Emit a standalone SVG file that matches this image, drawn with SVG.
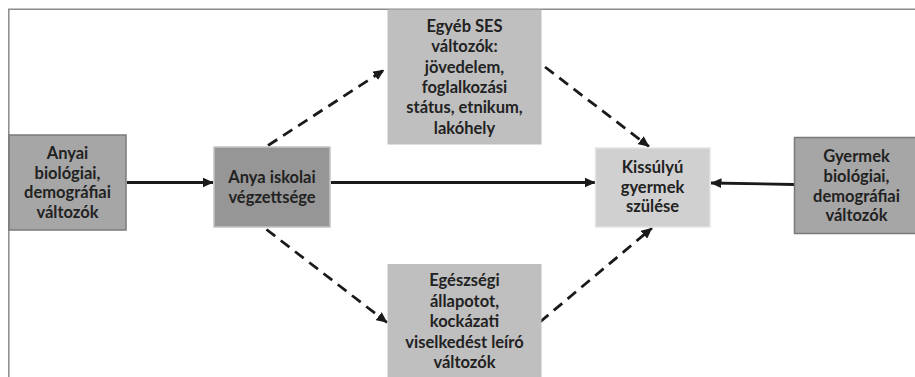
<svg xmlns="http://www.w3.org/2000/svg" width="915" height="377" viewBox="0 0 915 377">
<defs>
<style>
.t{font-family:Lato,"Liberation Sans",sans-serif;font-weight:bold;font-size:16.5px;fill:#222222;text-anchor:middle}
.frame{fill:none;stroke:#8a8a8a;stroke-width:1.5}
.solid{fill:none;stroke:#1a1a1a;stroke-width:2.8}
.dash{fill:none;stroke:#1a1a1a;stroke-width:2.8;stroke-dasharray:11 7}
</style>
<marker id="ah" markerUnits="userSpaceOnUse" markerWidth="11" markerHeight="10" refX="10.5" refY="5" orient="auto">
<path d="M0,0 L11,5 L0,10 z" fill="#1a1a1a"/>
</marker>
</defs>
<rect width="915" height="377" fill="#ffffff"/>
<path class="frame" d="M8.8,377 L8.8,9.2 L915,9.2"/>

<g id="connectors">
<line class="solid" x1="127" y1="182.5" x2="213" y2="182.5" marker-end="url(#ah)"/>
<line class="solid" x1="331" y1="182.5" x2="595" y2="182.5" marker-end="url(#ah)"/>
<line class="solid" x1="794" y1="184.5" x2="711" y2="183" marker-end="url(#ah)"/>
<line class="dash" x1="268" y1="145.5" x2="384" y2="70" marker-end="url(#ah)"/>
<line class="dash" x1="545" y1="67" x2="649" y2="146.5" marker-end="url(#ah)"/>
<line class="dash" x1="266.5" y1="229.5" x2="387" y2="322.5" marker-end="url(#ah)"/>
<line class="dash" x1="540" y1="322" x2="652" y2="228" marker-end="url(#ah)"/>
</g>

<g id="anyai">
<rect x="9" y="135" width="117" height="95" fill="#a6a6a6" stroke="#7a7a7a" stroke-width="1.5"/>
<text class="t" x="67.5" y="159">Anyai</text>
<text class="t" x="67.5" y="178.5">biológiai,</text>
<text class="t" x="67.5" y="198">demográfiai</text>
<text class="t" x="67.5" y="217.5">változók</text>
</g>

<g id="anya-iskolai">
<rect x="214" y="147" width="116" height="80" fill="#969696" stroke="#c4c4c4" stroke-width="1.5"/>
<text class="t" x="272" y="183">Anya iskolai</text>
<text class="t" x="272" y="202.5">végzettsége</text>
</g>

<g id="egyeb-ses">
<rect x="387.5" y="9.5" width="154" height="135" fill="#bfbfbf"/>
<text class="t" x="464.5" y="31.5">Egyéb SES</text>
<text class="t" x="464.5" y="52">változók:</text>
<text class="t" x="464.5" y="72.5">jövedelem,</text>
<text class="t" x="464.5" y="93">foglalkozási</text>
<text class="t" x="464.5" y="113">státus, etnikum,</text>
<text class="t" x="464.5" y="133.5">lakóhely</text>
</g>

<g id="egeszsegi">
<rect x="387.5" y="264" width="154" height="113" fill="#bfbfbf"/>
<text class="t" x="464.5" y="286">Egészségi</text>
<text class="t" x="464.5" y="306.5">állapotot,</text>
<text class="t" x="464.5" y="327">kockázati</text>
<text class="t" x="464.5" y="347.5">viselkedést leíró</text>
<text class="t" x="464.5" y="368">változók</text>
</g>

<g id="kissulyu">
<rect x="595.5" y="148" width="114.5" height="79" fill="#d0d0d0" stroke="#e4e4e4" stroke-width="1.5"/>
<text class="t" x="652.5" y="173">Kissúlyú</text>
<text class="t" x="652.5" y="192.5">gyermek</text>
<text class="t" x="652.5" y="212">szülése</text>
</g>

<g id="gyermek">
<rect x="794.5" y="137.5" width="125" height="96" fill="#a6a6a6" stroke="#7a7a7a" stroke-width="1.5"/>
<text class="t" x="856.5" y="162">Gyermek</text>
<text class="t" x="856.5" y="181.5">biológiai,</text>
<text class="t" x="856.5" y="201.5">demográfiai</text>
<text class="t" x="856.5" y="221">változók</text>
</g>
</svg>
